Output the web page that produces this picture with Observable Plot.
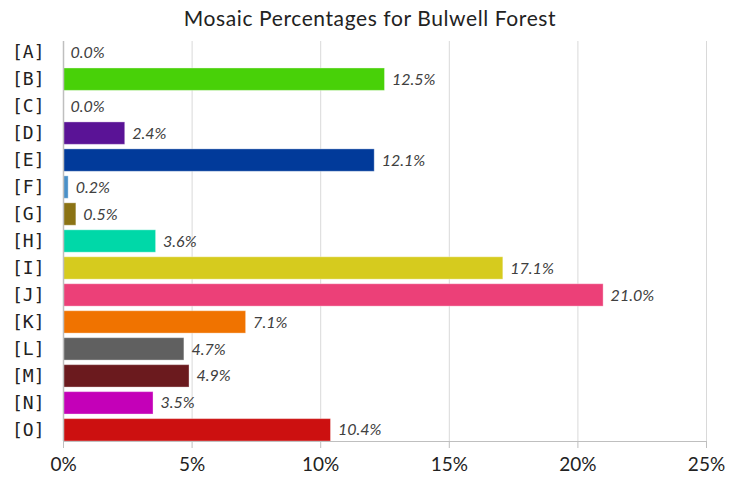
<!DOCTYPE html>
<html><head><meta charset="utf-8">
<script src="https://cdn.jsdelivr.net/npm/d3@7"></script>
<script src="https://cdn.jsdelivr.net/npm/@observablehq/plot@0.6"></script>
<style>
body{margin:0;background:#fff;}
#title{height:36px;line-height:36px;text-align:center;font-family:Lato, sans-serif;font-size:21px;letter-spacing:0.6px;color:#222;}
</style></head><body>
<div id="title">Mosaic Percentages for Bulwell Forest</div>
<div id="chart"></div>
<script>
const categories = ["[A]","[B]","[C]","[D]","[E]","[F]","[G]","[H]","[I]","[J]","[K]","[L]","[M]","[N]","[O]"];
const values = [0.0, 12.5, 0.0, 2.4, 12.1, 0.2, 0.5, 3.6, 17.1, 21.0, 7.1, 4.7, 4.9, 3.5, 10.4];
const colors = ["#48d108","#48d108","#cccccc","#5a1396","#013a9a","#4a90c8","#8b7314","#00d8a8","#d6cb1e","#ec4078","#f07300","#606060","#6b1a1e","#c400b8","#cc1010"];
const xTicks = [0, 5, 10, 15, 20, 25];

const data = categories.map((c, i) => ({cat: c, value: values[i], color: colors[i]}));
const fmt = d => d + "%";

const chart = Plot.plot({
  width: 740, height: 445,
  marginLeft: 63, marginRight: 34, marginTop: 5, marginBottom: 40,
  style: {fontFamily: "Lato, sans-serif", background: "#fff", color: "#222"},
  x: {domain: [0, 25], ticks: xTicks, tickFormat: fmt, label: null},
  y: {domain: categories, label: null, paddingInner: 0.17, paddingOuter: 0, round: false},
  color: {type: "identity"},
  marks: [
    Plot.gridX(xTicks, {stroke: "#d9d9d9", strokeOpacity: 1}),
    Plot.barX(data, {x: "value", y: "cat", fill: "color", stroke: "white", strokeOpacity: 0.35, strokeWidth: 1}),
    Plot.ruleX([0], {stroke: "#bfbfbf", strokeWidth: 1.5}),
    Plot.frame({anchor: "bottom", stroke: "#bfbfbf"}),
    Plot.text(data, {x: "value", y: "cat", text: d => d.value.toFixed(1) + "%", textAnchor: "start", dx: 7, fontStyle: "italic", fontSize: 16, fill: "#404040"}),
    Plot.axisY({tickSize: 0, tickPadding: 19, fontFamily: "DejaVu Sans Mono", fontSize: 18, fill: "#222"}),
    Plot.axisX(xTicks, {tickSize: 7, tickPadding: 9, fontSize: 19, stroke: "#bfbfbf", fill: "#222", tickFormat: fmt, label: null})
  ]
});
document.getElementById("chart").appendChild(chart);
</script>
</body></html>
